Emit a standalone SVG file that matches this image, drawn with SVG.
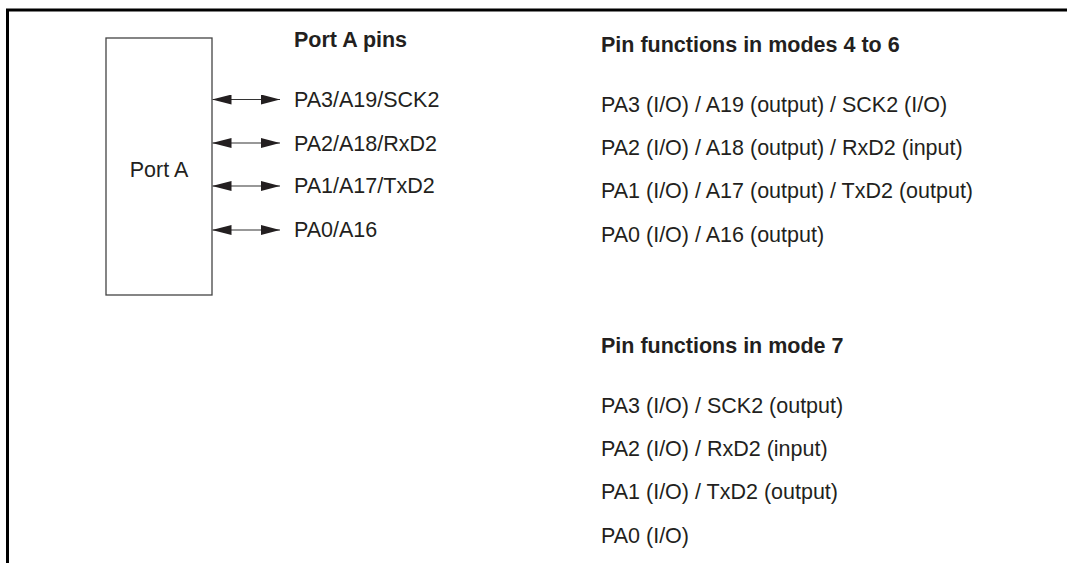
<svg xmlns="http://www.w3.org/2000/svg" width="1067" height="563" viewBox="0 0 1067 563">
<style>
text { font-family: "Liberation Sans", Arial, sans-serif; font-size: 21.5px; fill: #231f20; }
.b { font-weight: bold; }
.conn { stroke: #333; stroke-width: 1.2; fill: none; }
.box { fill: #fff; stroke: #444; stroke-width: 1.3; }
</style>
<defs>
<marker id="ah" viewBox="0 0 19 10" refX="19" refY="5" markerWidth="19" markerHeight="10" markerUnits="userSpaceOnUse" orient="auto-start-reverse">
<path d="M0,0 L19,5 L0,10 Z" fill="#231f20"/>
</marker>
</defs>
<rect width="1067" height="563" fill="#fff"/>
<g id="frame">
<path d="M7.5,563 V10 H1067" stroke="#000" stroke-width="3" fill="none"/>
</g>
<g id="portA">
<rect class="box" x="106" y="38" width="106" height="257"/>
<text x="159" y="177" text-anchor="middle">Port A</text>
</g>
<g id="connectors">
<line class="conn" x1="212.5" y1="99.5" x2="280" y2="99.5" marker-start="url(#ah)" marker-end="url(#ah)"/>
<line class="conn" x1="212.5" y1="143" x2="280" y2="143" marker-start="url(#ah)" marker-end="url(#ah)"/>
<line class="conn" x1="212.5" y1="186" x2="280" y2="186" marker-start="url(#ah)" marker-end="url(#ah)"/>
<line class="conn" x1="212.5" y1="230" x2="280" y2="230" marker-start="url(#ah)" marker-end="url(#ah)"/>
</g>
<g id="pins">
<text class="b" x="294" y="47">Port A pins</text>
<text x="294" y="107">PA3/A19/SCK2</text>
<text x="294" y="151">PA2/A18/RxD2</text>
<text x="294" y="193">PA1/A17/TxD2</text>
<text x="294" y="237">PA0/A16</text>
</g>
<g id="modes4to6">
<text class="b" x="601" y="52">Pin functions in modes 4 to 6</text>
<text x="601" y="112">PA3 (I/O) / A19 (output) / SCK2 (I/O)</text>
<text x="601" y="155">PA2 (I/O) / A18 (output) / RxD2 (input)</text>
<text x="601" y="198">PA1 (I/O) / A17 (output) / TxD2 (output)</text>
<text x="601" y="242">PA0 (I/O) / A16 (output)</text>
</g>
<g id="mode7">
<text class="b" x="601" y="353">Pin functions in mode 7</text>
<text x="601" y="413">PA3 (I/O) / SCK2 (output)</text>
<text x="601" y="456">PA2 (I/O) / RxD2 (input)</text>
<text x="601" y="499">PA1 (I/O) / TxD2 (output)</text>
<text x="601" y="543">PA0 (I/O)</text>
</g>
</svg>
